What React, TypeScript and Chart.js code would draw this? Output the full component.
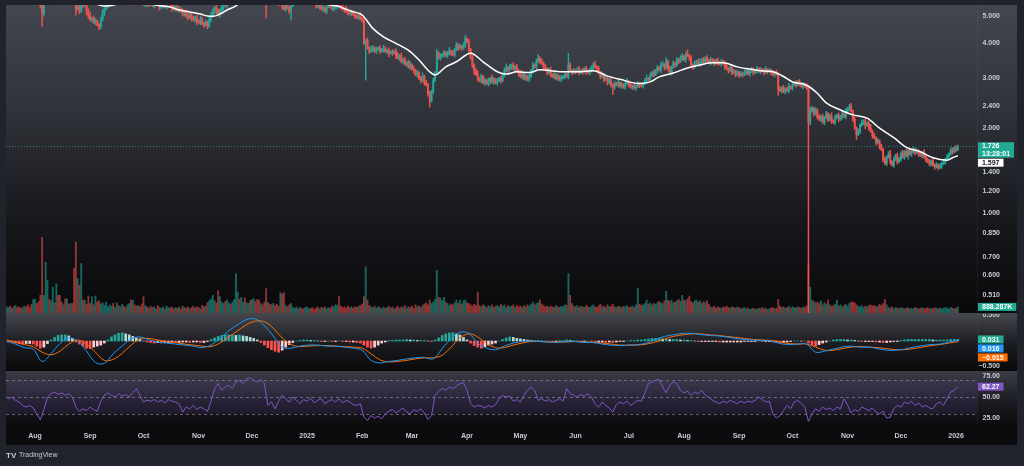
import React, { useEffect, useRef } from "react";
import { Chart, registerables } from "chart.js";

Chart.register(...registerables);

// ---------------- DATA ----------------
// Daily candles. Day 0 = 1 Aug 2024; first candle is day -16 (16 Jul 2024).
const FIRST_DAY = -16;
const FIRST_OPEN = 6.1;

const closes = [
  6.2, 6.4, 6.3, 6.6, 6.5, 6.7, 6.3, 6.1, 6.0, 6.2,
  6.3, 6.1, 6.0, 5.9, 5.8, 5.9,
  5.9, 5.8, 5.7, 5.45, 5.1, 5.6, 5.8, 6.0, 5.95, 6.1,
  6.3, 6.2, 6.5, 6.4, 6.3, 6.2, 6.25, 6.1, 6.15, 6.0,
  6.05, 6.0, 5.7, 5.3, 5.4, 5.2, 5.6, 5.45, 5.5, 5.2,
  5.0, 4.85, 4.9, 4.75, 4.8, 4.65, 4.6, 4.85, 5.1, 5.3,
  5.45, 5.6, 5.8, 5.9, 5.85, 6.0, 6.1, 5.95, 6.0, 6.2,
  6.1, 6.05, 6.2, 6.3, 6.25, 6.4, 6.35, 6.2, 6.3, 6.1,
  6.0, 5.5, 5.6, 5.45, 5.6, 5.55, 5.45, 5.6, 5.7, 5.5,
  5.35, 5.45, 5.55, 5.4, 5.6, 5.7, 5.5, 5.35, 5.3, 5.4,
  5.25, 5.3, 5.2, 5.1, 5.15, 5.0, 4.95, 5.05, 4.9, 4.85,
  4.95, 4.8, 4.75, 4.85, 4.7, 4.65, 4.75, 4.6, 4.85, 5.0,
  5.2, 5.35, 5.25, 5.05, 5.2, 5.35, 5.5, 5.45, 5.6, 5.8,
  5.7, 5.9, 6.1, 6.8, 7.1, 7.0, 7.3, 7.5, 7.2, 7.6,
  7.8, 7.6, 7.9, 8.1, 7.8, 7.7, 7.5, 7.6, 7.3, 7.0,
  6.0, 6.2, 6.0, 5.9, 6.0, 5.8, 5.7, 5.6, 5.7, 5.4,
  5.3, 5.5, 5.35, 5.2, 5.45, 5.6, 5.7, 5.8, 5.75, 5.9,
  5.8, 5.7, 5.85, 5.9, 6.0, 5.9, 5.8, 5.7, 5.5, 5.4,
  5.45, 5.3, 5.35, 5.2, 5.4, 5.5, 5.45, 5.3, 5.35, 5.4,
  5.5, 5.45, 5.4, 5.3, 5.25, 5.2, 5.15, 5.1, 5.15, 5.05,
  5.0, 4.95, 5.0, 4.9, 4.85, 4.0, 4.1, 3.85, 3.75, 3.8,
  3.85, 3.75, 3.8, 3.85, 3.75, 3.8, 3.82, 3.75, 3.78, 3.7,
  3.72, 3.7, 3.75, 3.6, 3.55, 3.62, 3.45, 3.5, 3.38, 3.42,
  3.3, 3.35, 3.25, 3.2, 3.1, 3.15, 3.0, 2.95, 3.05, 2.9,
  2.85, 2.65, 2.5, 2.7, 2.95, 3.15, 3.7, 3.55, 3.6, 3.65,
  3.7, 3.62, 3.68, 3.75, 3.7, 3.65, 3.8, 3.95, 3.85, 3.9,
  3.85, 3.95, 4.15, 4.05, 3.8, 3.55, 3.35, 3.2, 3.1, 3.0,
  2.95, 3.05, 2.9, 2.95, 2.88, 2.95, 3.0, 2.92, 2.97, 2.9,
  2.95, 3.0, 2.95, 3.1, 3.2, 3.28, 3.22, 3.3, 3.35, 3.25,
  3.3, 3.2, 3.15, 3.05, 3.1, 3.0, 3.05, 2.98, 3.05, 3.2,
  3.35, 3.3, 3.45, 3.55, 3.45, 3.4, 3.3, 3.25, 3.15, 3.2,
  3.1, 3.05, 3.1, 3.0, 3.05, 2.98, 3.02, 3.05, 3.1, 3.05,
  3.35, 3.2, 3.15, 3.2, 3.18, 3.22, 3.15, 3.2, 3.17, 3.25,
  3.2, 3.15, 3.2, 3.3, 3.35, 3.3, 3.25, 3.15, 3.05, 3.1,
  2.98, 3.0, 2.9, 2.95, 2.85, 2.8, 2.88, 2.85, 2.9, 2.82,
  2.85, 2.8, 2.88, 2.92, 2.85, 2.8, 2.82, 2.78, 2.82, 2.87,
  2.84, 2.83, 2.88, 2.95, 3.0, 2.98, 3.08, 3.15, 3.1, 3.2,
  3.28, 3.22, 3.35, 3.35, 3.28, 3.45, 3.25, 3.15, 3.3, 3.4,
  3.35, 3.5, 3.45, 3.55, 3.6, 3.5, 3.65, 3.62, 3.55, 3.35,
  3.3, 3.4, 3.45, 3.38, 3.42, 3.5, 3.45, 3.55, 3.48, 3.42,
  3.5, 3.45, 3.4, 3.48, 3.42, 3.38, 3.45, 3.4, 3.3, 3.25,
  3.2, 3.28, 3.15, 3.18, 3.1, 3.15, 3.08, 3.12, 3.1, 3.15,
  3.2, 3.12, 3.18, 3.22, 3.15, 3.2, 3.25, 3.18, 3.22, 3.2,
  3.15, 3.22, 3.18, 3.2, 3.15, 3.1, 3.15, 3.12, 2.75, 2.72,
  2.78, 2.7, 2.75, 2.72, 2.8, 2.78, 2.85, 2.9, 2.85, 2.92,
  2.88, 2.82, 2.85, 2.82, 2.8, 2.1, 2.3, 2.35, 2.25, 2.32,
  2.2, 2.15, 2.2, 2.1, 2.18, 2.25, 2.15, 2.2, 2.12, 2.1,
  2.18, 2.22, 2.15, 2.2, 2.25, 2.2, 2.3, 2.35, 2.38, 2.3,
  2.15, 2.0, 1.9, 1.95, 2.05, 2.1, 2.12, 2.05, 2.08, 2.0,
  1.95, 1.88, 1.85, 1.78, 1.8, 1.72, 1.68, 1.55, 1.5, 1.58,
  1.62, 1.52, 1.48, 1.55, 1.6, 1.52, 1.56, 1.62, 1.58, 1.65,
  1.6, 1.66, 1.62, 1.65, 1.68, 1.64, 1.66, 1.62, 1.6, 1.63,
  1.58, 1.55, 1.52, 1.5, 1.53, 1.48, 1.46, 1.48, 1.45, 1.47,
  1.5, 1.52, 1.55, 1.58, 1.62, 1.67, 1.65, 1.7, 1.68, 1.726,
];

// Wick lengths in % beyond the candle body (upper / lower)
const wickUpPct = [
  2,1,3,1,2,2,1,3,2,1,2,1,1,2,3,1,2,1,2,3,
  2,1,2,3,1,2,1,2,1,3,2,1,2,2,1,3,1,2,1,1,
  2,3,1,2,1,1,2,3,1,2,2,1,1,2,3,1,2,1,2,2,
  1,2,3,1,2,1,2,1,3,2,1,2,2,1,1,2,3,1,2,1,
  2,1,2,3,1,2,1,1,2,3,2,1,2,1,2,3,1,2,1,2,
  1,2,3,1,2,2,1,2,1,3,2,1,2,1,2,3,2,1,2,1,
  2,3,1,2,1,2,1,3,2,1,2,1,2,3,1,2,1,2,1,3,
  2,1,2,1,3,2,1,2,2,1,2,3,1,2,1,2,1,2,3,1,
  2,1,2,1,2,3,1,2,1,2,2,1,3,1,2,1,2,1,2,1,
  2,1,2,3,1,2,1,2,1,2,1,3,2,1,2,1,2,1,2,3,
  1,2,1,2,1,3,2,1,2,1,2,1,3,2,1,2,1,2,1,2,
  3,1,2,1,2,1,2,3,1,2,1,2,1,2,3,1,2,1,2,1,
  2,1,3,1,2,1,2,1,2,3,1,2,1,2,1,2,1,2,3,1,
  2,1,2,1,2,3,1,2,1,2,1,2,1,3,2,1,2,1,2,1,
  2,3,1,2,1,2,1,2,1,2,3,1,2,1,2,1,2,1,2,3,
  1,2,1,2,1,2,3,1,2,1,2,1,2,1,2,1,10,2,1,2,
  1,2,3,1,2,1,2,1,2,1,2,3,1,2,1,2,1,2,1,2,
  3,1,2,1,2,1,2,1,2,3,1,2,1,2,1,2,1,2,1,2,
  3,1,2,1,2,1,2,1,2,3,1,3,1,2,1,2,1,2,1,2,
  2,1,2,4,1,2,1,2,1,2,3,1,2,1,2,1,2,1,2,1,
  2,1,2,1,2,3,1,2,1,2,1,2,1,2,1,2,1,2,1,2,
  2,1,2,1,2,1,2,3,1,2,1,2,1,2,1,2,1,2,1,2,
  3,1,2,1,2,1,2,1,2,1,2,1,3,2,1,2,1,2,1,2,
  1,2,1,2,3,1,2,1,2,1,2,1,2,1,2,3,1,2,1,2,
  1,2,1,2,1,2,3,1,2,1,2,1,2,1,2,1,2,3,1,2,
  1,2,1,2,3,1,2,1,2,1,2,1,2,1,2,1,3,2,1,2,
  1,2,1,2,1,2,1,2,1,2,1,2,2,1,2,1,
];

const wickDownPct = [
  1,2,1,2,3,1,2,1,2,1,2,3,1,2,1,2,1,2,1,2,
  10,2,1,2,1,2,1,2,3,1,2,1,2,1,2,1,2,1,2,5,
  1,2,1,2,1,3,2,1,2,1,2,1,3,2,1,2,1,2,1,2,
  2,1,2,1,2,1,3,2,1,2,1,2,1,2,1,2,3,1,2,1,
  1,2,1,2,3,1,2,1,2,1,2,1,2,3,1,2,1,2,1,2,
  2,1,2,1,2,1,2,3,1,2,1,2,1,2,1,2,1,2,3,1,
  2,1,2,1,2,1,2,1,2,3,1,2,1,2,1,2,1,2,1,2,
  1,2,1,2,1,2,18,2,1,2,1,2,1,3,1,2,1,2,1,2,
  7,1,2,1,2,1,2,1,2,1,2,1,2,1,3,1,2,1,2,1,
  2,1,2,1,2,1,2,1,2,1,2,1,2,1,2,1,2,1,2,1,
  2,1,26,1,2,1,2,1,2,1,2,1,2,1,2,3,1,2,1,2,
  1,2,1,2,1,2,1,2,1,2,1,2,1,2,1,2,1,2,5,1,
  2,1,2,1,2,1,2,1,2,1,2,1,2,1,2,1,2,1,2,1,
  2,1,2,3,1,2,1,2,1,2,1,2,3,1,2,1,2,1,2,1,
  2,1,2,1,2,1,2,1,3,1,2,1,2,1,2,1,2,1,2,1,
  2,1,2,1,2,1,2,1,2,1,2,1,2,1,2,1,2,1,2,1,
  2,1,2,1,2,1,3,1,2,1,2,1,2,1,2,1,2,1,2,1,
  2,6,2,1,2,1,2,1,2,1,2,1,2,1,2,1,2,1,2,1,
  2,1,2,1,2,1,2,1,2,1,2,1,2,1,2,1,2,1,2,1,
  2,1,2,1,2,1,2,1,2,1,2,1,2,1,2,1,2,1,2,1,
  2,1,2,1,2,1,2,1,2,1,2,1,2,1,2,1,2,1,2,1,
  2,1,2,1,2,1,2,1,2,1,2,1,2,1,5,1,2,1,2,1,
  2,1,2,1,2,1,2,1,2,1,2,81,2,1,2,1,2,1,2,1,
  2,1,2,1,2,1,2,1,2,1,2,1,2,1,2,1,2,1,4,1,
  2,1,2,3,1,2,1,2,1,2,1,2,1,2,1,2,1,2,1,2,
  1,2,1,2,1,2,1,3,1,2,1,2,1,2,1,2,1,2,1,2,
  2,1,2,1,2,1,2,1,2,1,2,1,2,1,2,1,
];

// Daily volume, millions
const volumeM = [
  0.9, 0.8, 1.0, 0.7, 0.9, 1.1, 0.8, 0.9, 0.7, 0.8,
  1.0, 0.9, 1.2, 0.8, 1.3, 2.0,
  2.0, 1.4, 1.7, 2.6, 11.2, 2.6, 7.5, 4.8, 2.0, 1.8,
  3.8, 1.5, 4.3, 2.6, 2.6, 1.6, 1.2, 2.1, 2.1, 1.3,
  1.4, 1.4, 6.6, 10.5, 5.1, 4.1, 7.3, 1.9, 1.9, 1.3,
  2.5, 1.4, 2.4, 1.2, 2.5, 1.6, 1.8, 1.3, 1.5, 1.1,
  1.6, 0.9, 1.2, 1.0, 1.4, 0.8, 1.5, 1.1, 0.9, 1.3,
  1.0, 0.8, 1.2, 1.4, 1.9, 1.9, 1.2, 1.0, 1.1, 0.9,
  1.3, 2.4, 1.1, 0.9, 0.7, 1.0, 0.8, 0.9, 0.6, 1.1,
  0.8, 0.7, 0.9, 0.6, 1.0, 0.8, 0.7, 0.9, 0.6, 0.8,
  0.7, 0.9, 0.6, 1.0, 0.8, 0.7, 0.9, 0.6, 0.8, 1.0,
  0.7, 0.9, 0.8, 0.6, 1.1, 0.9, 1.0, 1.5, 1.8, 2.0,
  2.6, 1.8, 1.5, 3.3, 2.4, 1.6, 1.4, 1.7, 1.9, 1.5,
  1.3, 1.6, 2.0, 5.8, 3.1, 2.0, 2.3, 1.6, 2.2, 1.5,
  1.4, 1.8, 2.0, 2.1, 1.7, 2.0, 1.9, 1.4, 1.2, 1.6,
  3.6, 1.5, 1.3, 1.2, 1.4, 1.1, 1.3, 1.0, 3.0, 2.8,
  3.0, 1.1, 0.9, 1.2, 1.4, 0.8, 0.7, 0.9, 0.6, 0.8,
  0.7, 0.6, 0.8, 0.9, 0.6, 0.7, 0.8, 0.5, 0.7, 0.9,
  0.6, 0.8, 0.7, 0.9, 0.6, 0.8, 0.7, 1.0, 0.9, 1.2,
  1.1, 2.4, 1.0, 0.8, 0.9, 0.7, 1.0, 0.8, 0.9, 0.7,
  0.9, 0.8, 1.0, 1.1, 1.3, 2.4, 6.8, 1.9, 1.1, 0.9,
  0.8, 1.0, 0.7, 0.9, 0.8, 0.6, 0.9, 0.7, 0.8, 1.0,
  0.7, 0.9, 0.6, 0.8, 1.0, 0.7, 0.9, 0.8, 1.1, 0.7,
  0.9, 0.8, 1.0, 0.7, 1.2, 0.9, 1.0, 0.8, 1.1, 1.3,
  1.5, 1.2, 1.9, 1.4, 1.6, 2.0, 6.3, 2.3, 2.2, 1.8,
  2.3, 1.6, 1.4, 1.1, 1.3, 1.2, 1.5, 1.9, 1.4, 1.9,
  1.3, 1.8, 1.9, 1.5, 1.4, 1.2, 1.0, 1.3, 1.1, 3.1,
  1.1, 0.9, 1.2, 1.0, 0.8, 1.1, 0.9, 1.2, 0.8, 1.0,
  1.1, 0.9, 1.3, 1.0, 1.2, 0.8, 1.1, 0.9, 1.0, 1.2,
  0.8, 1.1, 0.9, 1.0, 0.8, 1.1, 0.9, 1.2, 1.0, 1.3,
  1.6, 1.2, 1.4, 1.5, 1.9, 1.3, 1.1, 0.9, 1.0, 0.8,
  1.0, 0.9, 0.8, 1.1, 0.9, 0.8, 1.0, 0.9, 1.2, 1.1,
  5.8, 2.6, 1.4, 1.0, 0.9, 1.1, 0.8, 1.0, 0.9, 0.8,
  1.1, 0.9, 0.8, 1.0, 1.2, 0.9, 0.8, 1.1, 1.3, 0.9,
  1.0, 0.8, 1.2, 0.9, 1.0, 1.3, 0.9, 0.8, 1.0, 0.9,
  0.8, 1.0, 0.9, 1.1, 0.8, 0.9, 1.0, 0.8, 1.2, 3.6,
  1.3, 1.1, 1.2, 1.4, 1.9, 1.3, 1.5, 1.2, 1.4, 1.3,
  1.5, 1.7, 1.5, 1.4, 1.8, 3.2, 1.9, 1.7, 1.9, 1.5,
  1.6, 1.8, 2.0, 1.7, 2.6, 1.9, 1.8, 2.1, 2.5, 1.7,
  1.5, 1.8, 1.9, 1.6, 1.8, 1.4, 1.7, 1.5, 1.8, 1.3,
  0.9, 0.8, 1.0, 0.7, 0.9, 0.8, 0.7, 0.9, 0.8, 1.0,
  0.8, 0.7, 0.9, 0.8, 0.7, 0.9, 0.8, 0.6, 0.7, 0.8,
  0.6, 0.7, 0.5, 0.6, 0.7, 0.6, 0.5, 0.7, 0.6, 0.8,
  0.6, 0.7, 0.5, 0.6, 0.7, 0.8, 0.6, 0.7, 2.0, 1.0,
  0.8, 0.9, 0.7, 0.8, 1.0, 0.7, 0.9, 0.8, 0.7, 0.9,
  0.8, 0.7, 0.9, 0.8, 1.1, 7.1, 3.8, 1.9, 1.7, 1.5,
  1.6, 1.4, 1.8, 1.2, 1.5, 1.3, 1.9, 1.2, 1.0, 1.1,
  1.3, 1.9, 1.0, 1.2, 0.9, 1.1, 1.3, 1.0, 1.4, 1.6,
  1.6, 1.5, 1.2, 1.0, 0.9, 1.1, 0.8, 1.0, 0.9, 1.1,
  1.2, 1.0, 1.1, 0.9, 1.0, 1.3, 1.1, 1.4, 2.0, 1.2,
  0.8, 0.7, 0.9, 0.6, 0.8, 0.7, 0.6, 0.8, 0.7, 0.6,
  0.7, 0.8, 0.6, 0.7, 0.6, 0.8, 0.7, 0.6, 0.7, 0.8,
  0.6, 0.7, 0.8, 0.6, 0.7, 0.6, 0.8, 0.7, 0.6, 0.7,
  0.6, 0.7, 0.8, 0.7, 0.6, 0.8, 0.7, 0.6, 0.7, 0.888287,
];

// White moving average (day, value)
const smaDays = [
  -16, -10, -5, 0, 5, 10, 15, 20, 25, 30, 35, 39, 43, 48, 53, 58, 63, 68, 76, 81,
  87, 93, 97, 100, 104, 108, 113, 118, 123, 128, 133, 138, 143, 148, 153, 158, 163, 166, 170, 173,
  178, 184, 190, 196, 203, 211, 216, 222, 225, 231, 237, 245, 252, 260, 265, 271, 278, 284, 290, 297,
  305, 314, 322, 329, 340, 346, 351, 359, 367, 374, 381, 387, 395, 402, 408, 415, 421, 426, 434, 440,
  445, 453, 460, 468, 475, 483, 490, 498, 505, 513, 516, 519,
];
const smaValues = [
  6.1, 6.15, 6.1, 6.05, 5.95, 5.9, 5.95, 6.0, 5.85, 5.65, 5.5, 5.42, 5.45, 5.55, 5.65, 5.7, 5.6, 5.47, 5.38, 5.25,
  5.17, 5.08, 5.0, 4.99, 5.08, 5.25, 5.43, 5.8, 6.3, 6.7, 6.6, 6.3, 6.0, 5.8, 5.7, 5.65, 5.55, 5.47, 5.43, 5.34,
  5.2, 5.04, 4.52, 4.22, 4.0, 3.74, 3.49, 3.17, 3.09, 3.3, 3.44, 3.69, 3.44, 3.17, 3.11, 3.17, 3.15, 3.22, 3.2, 3.17,
  3.17, 3.2, 3.06, 2.98, 2.88, 2.92, 3.04, 3.14, 3.27, 3.35, 3.41, 3.41, 3.3, 3.24, 3.2, 3.17, 3.05, 2.92, 2.84, 2.66,
  2.46, 2.32, 2.23, 2.17, 2.0, 1.85, 1.71, 1.65, 1.57, 1.54, 1.57, 1.597,
];

// MACD line and signal, one reading every 5 days from day -16
const MACD_FIRST_DAY = -16;
const MACD_STEP_DAYS = 5;
const macdValues = [
  0.0, -0.06, -0.13, -0.16, -0.4, -0.25, -0.05, 0.06, 0.0, -0.2,
  -0.42, -0.44, -0.25, -0.1, 0.04, 0.08, 0.02, -0.02, -0.04, -0.06,
  -0.08, -0.1, -0.13, -0.08, 0.05, 0.2, 0.32, 0.42, 0.43, 0.3,
  0.1, -0.12, -0.14, -0.1, -0.08, -0.08, -0.1, -0.1, -0.12, -0.14,
  -0.18, -0.38, -0.43, -0.4, -0.38, -0.35, -0.33, -0.32, -0.35, -0.15,
  0.05, 0.17, 0.15, -0.04, -0.14, -0.17, -0.1, -0.04, -0.01, 0.0,
  -0.01, -0.02, -0.03, -0.01, -0.01, -0.03, -0.03, -0.06, -0.08, -0.09,
  -0.08, -0.07, -0.04, 0.03, 0.09, 0.12, 0.15, 0.15, 0.13, 0.11,
  0.1, 0.08, 0.05, 0.03, 0.02, 0.01, 0.0, -0.05, -0.07, -0.06,
  -0.06, -0.22, -0.2, -0.16, -0.12, -0.1, -0.12, -0.12, -0.15, -0.18,
  -0.18, -0.16, -0.12, -0.09, -0.07, -0.06, -0.02, 0.016,
];
const signalValues = [
  0.02, -0.02, -0.07, -0.11, -0.22, -0.27, -0.2, -0.06, 0.02, -0.06,
  -0.22, -0.38, -0.36, -0.24, -0.08, 0.04, 0.05, 0.02, -0.01, -0.03,
  -0.06, -0.08, -0.1, -0.11, -0.04, 0.08, 0.2, 0.32, 0.39, 0.38,
  0.25, 0.06, -0.07, -0.11, -0.1, -0.09, -0.09, -0.1, -0.11, -0.12,
  -0.14, -0.25, -0.37, -0.41, -0.4, -0.38, -0.35, -0.33, -0.33, -0.28,
  -0.12, 0.06, 0.14, 0.08, -0.05, -0.13, -0.13, -0.08, -0.04, -0.01,
  -0.01, -0.02, -0.02, -0.02, -0.01, -0.02, -0.03, -0.04, -0.06, -0.08,
  -0.08, -0.08, -0.06, -0.02, 0.04, 0.09, 0.12, 0.14, 0.14, 0.12,
  0.11, 0.09, 0.07, 0.05, 0.03, 0.02, 0.01, -0.02, -0.05, -0.06,
  -0.06, -0.12, -0.18, -0.18, -0.15, -0.12, -0.11, -0.12, -0.13, -0.15,
  -0.17, -0.17, -0.15, -0.12, -0.09, -0.07, -0.04, -0.015,
];

// MACD histogram and RSI, one reading every 2 days from day -15
const OSC_FIRST_DAY = -15;
const OSC_STEP_DAYS = 2;
const histValues = [
  -0.02, -0.03, -0.04, -0.05, -0.06, -0.05, -0.05, -0.06,
  -0.1, -0.14, -0.12, -0.05, 0.02, 0.07, 0.11, 0.12, 0.12, 0.1,
  0.05, -0.02, -0.06, -0.1, -0.14, -0.15, -0.12, -0.1, -0.08, -0.04,
  0.02, 0.08, 0.12, 0.15, 0.16, 0.14, 0.12, 0.09, 0.06, 0.04,
  0.0, -0.02, -0.03, -0.04, -0.03, -0.04, -0.03, -0.03, -0.02, -0.03,
  -0.03, -0.02, -0.02, -0.03, -0.02, -0.02, -0.03, -0.03, -0.01, 0.03,
  0.06, 0.09, 0.11, 0.12, 0.12, 0.12, 0.11, 0.12, 0.1, 0.09,
  0.07, 0.05, 0.02, -0.03, -0.08, -0.13, -0.17, -0.2, -0.22, -0.18,
  -0.12, -0.07, -0.03, 0.0, 0.01, 0.02, 0.02, 0.01, 0.01, 0.0,
  -0.01, -0.01, 0.0, -0.01, -0.01, 0.0, -0.01, -0.01, -0.02, -0.02,
  -0.03, -0.04, -0.08, -0.12, -0.14, -0.12, -0.08, -0.04, -0.02, 0.01,
  0.01, 0.02, 0.02, 0.02, 0.03, 0.02, 0.02, 0.01, 0.01, 0.01,
  0.0, -0.01, 0.02, 0.06, 0.11, 0.14, 0.16, 0.16, 0.14, 0.12,
  0.07, 0.02, -0.04, -0.09, -0.12, -0.14, -0.11, -0.08, -0.06, -0.04,
  0.0, 0.03, 0.06, 0.08, 0.07, 0.05, 0.04, 0.03, 0.02, 0.01,
  0.0, 0.01, 0.0, -0.01, 0.0, -0.01, -0.01, 0.01, 0.01, 0.02,
  0.01, 0.0, 0.0, -0.01, -0.01, 0.0, -0.01, -0.02, -0.02, -0.02,
  -0.03, -0.02, -0.03, -0.02, -0.01, -0.01, 0.0, 0.01, 0.01, 0.02,
  0.02, 0.03, 0.04, 0.05, 0.05, 0.05, 0.04, 0.04, 0.03, 0.03,
  0.03, 0.02, 0.02, 0.01, 0.01, 0.0, -0.01, -0.01, -0.01, -0.01,
  -0.01, -0.01, -0.02, -0.02, -0.02, -0.02, -0.02, -0.02, -0.02, -0.01,
  -0.01, -0.01, -0.01, 0.0, -0.01, -0.01, -0.01, -0.02, -0.02, -0.03,
  -0.03, -0.02, -0.01, 0.0, 0.0, -0.01, 0.0, -0.04, -0.08, -0.1,
  -0.07, -0.04, -0.02, 0.0, 0.02, 0.03, 0.03, 0.03, 0.02, 0.02,
  0.01, 0.0, -0.01, -0.01, -0.01, -0.01, -0.02, -0.02, -0.03, -0.03,
  -0.02, -0.01, -0.01, 0.01, 0.02, 0.03, 0.03, 0.03, 0.03, 0.03,
  0.03, 0.03, 0.02, 0.02, 0.02, 0.02, 0.02, 0.03, 0.03, 0.031,
];
const rsiValues = [
  48, 50, 46, 44, 40, 38, 40, 37,
  30, 23, 35, 50, 54, 56, 53, 55, 52, 54,
  50, 38, 33, 36, 34, 38, 35, 33, 45, 52,
  55, 52, 50, 54, 51, 53, 50, 55, 60, 52,
  44, 46, 45, 47, 44, 46, 43, 47, 45, 44,
  42, 32, 38, 36, 40, 35, 38, 36, 33, 45,
  60, 66, 58, 62, 64, 60, 68, 70, 66, 72,
  73, 70, 68, 71, 66, 40, 44, 36, 45, 52,
  48, 44, 50, 46, 42, 47, 45, 49, 43, 46,
  48, 42, 45, 47, 44, 48, 43, 46, 44, 41,
  40, 42, 26, 22, 28, 25, 27, 24, 30, 33,
  35, 31, 34, 37, 32, 30, 35, 33, 36, 31,
  23, 28, 52, 57, 60, 58, 62, 60, 63, 66,
  67, 58, 42, 38, 40, 39, 37, 40, 38, 41,
  48, 52, 50, 51, 45, 47, 44, 52, 58, 62,
  58, 46, 48, 45, 47, 44, 46, 48, 45, 60,
  54, 52, 50, 53, 51, 54, 50, 42, 38, 44,
  40, 37, 32, 41, 44, 42, 45, 40, 43, 46,
  45, 55, 66, 68, 70, 71, 62, 55, 64, 68,
  66, 58, 55, 57, 52, 56, 54, 58, 52, 50,
  46, 44, 42, 45, 43, 46, 44, 42, 45, 43,
  45, 44, 46, 50, 47, 44, 45, 30, 25, 28,
  34, 40, 36, 44, 46, 42, 38, 21, 30, 36,
  33, 38, 35, 37, 34, 38, 36, 48, 40, 31,
  35, 33, 38, 36, 34, 37, 32, 30, 33, 25,
  26, 36, 40, 38, 44, 42, 45, 40, 43, 38,
  40, 37, 36, 42, 44, 40, 48, 56, 58, 62.27,
];

// Time axis (day of each month start) and labels
const monthDays = [0, 31, 61, 92, 122, 153, 184, 212, 243, 273, 304, 334, 365, 396, 426, 457, 487, 518];
const monthLabels = ["Aug", "Sep", "Oct", "Nov", "Dec", "2025", "Feb", "Mar", "Apr", "May", "Jun", "Jul", "Aug", "Sep", "Oct", "Nov", "Dec", "2026"];

// Right-axis ticks
const priceTicks = [5, 4, 3, 2.4, 2, 1.4, 1.2, 1, 0.85, 0.7, 0.6, 0.51];
const macdTicks = [0.5, -0.5];
const rsiTicks = [75, 50, 25];
const rsiLevels = [70, 50, 30];

// Last values (right-side tags)
const lastClose = 1.726;
const barCountdown = "13:28:01";
const lastSma = 1.597;
const lastVolume = 0.888287;
const lastVolumeLabel = "888.287K";
const lastHist = 0.031;
const lastMacd = 0.016;
const lastSignal = -0.015;
const lastRsi = 62.27;

// ---------------- LAYOUT / STYLE ----------------
const W = 1024;
const H = 466;
const AREA = { left: 6, top: 5, right: 977, bottom: 425 };
const MAIN_BOTTOM = 313;
const MACD_TOP = 314;
const MACD_BOTTOM = 370;
const RSI_TOP = 371;
const CONTENT_RIGHT = 1017;
const TIME_BOTTOM = 445;
const TAG_X = 978;
const LABEL_RIGHT = 1000;
const FONT = 'bold 7px "Liberation Sans", Arial, sans-serif';
const TEXT = "#c9ccd4";
const UP = "#26a69a";
const DOWN = "#ef5350";
const VOL_UP = "rgba(38,166,154,0.58)";
const VOL_DOWN = "rgba(239,83,80,0.58)";
const FRAME = "#20232b";

const mainClip = { left: 0, top: 0, right: 0, bottom: -(AREA.bottom - MAIN_BOTTOM) };
const macdClip = { left: 0, top: -(MACD_TOP - AREA.top), right: 0, bottom: -(AREA.bottom - MACD_BOTTOM) };
const rsiClip = { left: 0, top: -(RSI_TOP - AREA.top), right: 0, bottom: 0 };

const fmt = (v: number, d: number) => v.toFixed(d).replace("-", "\u2212");

function buildConfig(): any {
  const candles = closes.map((c, i) => {
    const o = i === 0 ? FIRST_OPEN : closes[i - 1];
    const hi = Math.max(o, c) * (1 + (wickUpPct[i] ?? 1) / 100);
    const lo = Math.min(o, c) * (1 - (wickDownPct[i] ?? 1) / 100);
    return { day: FIRST_DAY + i, o, c, hi, lo, up: c >= o };
  });
  const macdPts = (arr: number[]) => arr.map((v, i) => ({ x: MACD_FIRST_DAY + i * MACD_STEP_DAYS, y: v }));
  const oscPts = (arr: number[]) => arr.map((v, i) => ({ x: OSC_FIRST_DAY + i * OSC_STEP_DAYS, y: v }));
  const histColors = histValues.map((v, i) => {
    const prev = i > 0 ? histValues[i - 1] : 0;
    if (v >= 0) return v >= prev ? "#26a69a" : "#b2dfdb";
    return v < prev ? "#ff5252" : "#ffcdd2";
  });

  const chromePlugin = {
    id: "tvChrome",
    beforeDraw(chart: any) {
      const { ctx } = chart;
      ctx.save();
      ctx.fillStyle = FRAME;
      ctx.fillRect(0, 0, W, H);
      const pane = (y0: number, y1: number, stops: [number, string][]) => {
        const g = ctx.createLinearGradient(0, y0, 0, y1);
        stops.forEach(([o, c]) => g.addColorStop(o, c));
        ctx.fillStyle = g;
        ctx.fillRect(AREA.left, y0, CONTENT_RIGHT - AREA.left, y1 - y0);
      };
      pane(AREA.top, MAIN_BOTTOM, [[0, "#43464f"], [0.35, "#303239"], [0.7, "#17181c"], [1, "#09090b"]]);
      pane(MAIN_BOTTOM, MACD_BOTTOM, [[0, "#46484f"], [0.5, "#1d1e23"], [1, "#09090b"]]);
      pane(RSI_TOP, AREA.bottom, [[0, "#3b3c46"], [0.6, "#1a1a20"], [1, "#0c0c0f"]]);
      ctx.fillStyle = "#0b0b0d";
      ctx.fillRect(AREA.left, AREA.bottom, CONTENT_RIGHT - AREA.left, TIME_BOTTOM - AREA.bottom);
      ctx.fillStyle = "#060607";
      ctx.fillRect(AREA.left, MACD_BOTTOM, CONTENT_RIGHT - AREA.left, 1);
      ctx.fillStyle = "rgba(255,255,255,0.05)";
      ctx.fillRect(AREA.right, AREA.top, 1, AREA.bottom - AREA.top);
      ctx.restore();
    },
    beforeDatasetsDraw(chart: any) {
      const { ctx, scales } = chart;
      const yR = scales.yRsi;
      ctx.save();
      const yTop = yR.getPixelForValue(rsiLevels[0]);
      const yBot = yR.getPixelForValue(rsiLevels[2]);
      ctx.fillStyle = "rgba(126,87,194,0.12)";
      ctx.fillRect(AREA.left, yTop, AREA.right - AREA.left, yBot - yTop);
      ctx.strokeStyle = "rgba(150,152,164,0.6)";
      ctx.lineWidth = 1;
      ctx.setLineDash([3, 3]);
      rsiLevels.forEach((v) => {
        const y = Math.round(yR.getPixelForValue(v)) + 0.5;
        ctx.beginPath();
        ctx.moveTo(AREA.left, y);
        ctx.lineTo(AREA.right, y);
        ctx.stroke();
      });
      const yp = Math.round(scales.yPrice.getPixelForValue(lastClose)) + 0.5;
      ctx.strokeStyle = "rgba(38,166,154,0.75)";
      ctx.setLineDash([1, 2]);
      ctx.beginPath();
      ctx.moveTo(AREA.left, yp);
      ctx.lineTo(AREA.right, yp);
      ctx.stroke();
      ctx.restore();
    },
    afterDraw(chart: any) {
      const { ctx, scales } = chart;
      ctx.save();
      ctx.font = FONT;
      ctx.textBaseline = "middle";
      ctx.fillStyle = TEXT;
      ctx.textAlign = "right";
      priceTicks.forEach((v) => ctx.fillText(fmt(v, 3), LABEL_RIGHT, scales.yPrice.getPixelForValue(v)));
      ctx.save();
      ctx.beginPath();
      ctx.rect(AREA.right, MACD_TOP, CONTENT_RIGHT - AREA.right, MACD_BOTTOM - MACD_TOP);
      ctx.clip();
      macdTicks.forEach((v) => ctx.fillText(fmt(v, 3), LABEL_RIGHT, scales.yMacd.getPixelForValue(v)));
      ctx.restore();
      rsiTicks.forEach((v) => ctx.fillText(fmt(v, 2), LABEL_RIGHT, scales.yRsi.getPixelForValue(v)));

      // time axis
      ctx.textAlign = "center";
      monthDays.forEach((d, i) => ctx.fillText(monthLabels[i], scales.x.getPixelForValue(d), 436.5));

      // tags
      const LH = 7.5;
      const drawTags = (tags: { y: number; lines: string[]; bg: string; fg: string }[]) => {
        let prevBottom = -Infinity;
        tags.forEach((t) => {
          const h = t.lines.length * LH + 0.5;
          let top = t.y - LH / 2 - 0.25;
          if (top < prevBottom + 1) top = prevBottom + 1;
          const w = Math.max(...t.lines.map((s) => ctx.measureText(s).width)) + 8;
          ctx.fillStyle = t.bg;
          ctx.fillRect(TAG_X, top, w, h);
          ctx.fillStyle = t.fg;
          ctx.textAlign = "left";
          t.lines.forEach((s, i) => ctx.fillText(s, TAG_X + 4, top + LH / 2 + 0.5 + i * LH));
          prevBottom = top + h;
        });
      };
      drawTags([
        { y: scales.yPrice.getPixelForValue(lastClose), lines: [fmt(lastClose, 3), barCountdown], bg: "#22ab94", fg: "#ffffff" },
        { y: scales.yPrice.getPixelForValue(lastSma), lines: [fmt(lastSma, 3)], bg: "#ffffff", fg: "#131722" },
      ]);
      drawTags([{ y: scales.yVol.getPixelForValue(lastVolume), lines: [lastVolumeLabel], bg: "#22ab94", fg: "#ffffff" }]);
      drawTags([
        { y: scales.yMacd.getPixelForValue(lastHist), lines: [fmt(lastHist, 3)], bg: "#22ab94", fg: "#ffffff" },
        { y: scales.yMacd.getPixelForValue(lastMacd), lines: [fmt(lastMacd, 3)], bg: "#2196f3", fg: "#ffffff" },
        { y: scales.yMacd.getPixelForValue(lastSignal), lines: [fmt(lastSignal, 3)], bg: "#ff6d00", fg: "#ffffff" },
      ]);
      drawTags([{ y: scales.yRsi.getPixelForValue(lastRsi), lines: [fmt(lastRsi, 2)], bg: "#7e57c2", fg: "#ffffff" }]);

      // footer
      ctx.textAlign = "left";
      ctx.fillStyle = "#c8cbd3";
      ctx.font = 'bold 8px "Liberation Sans", Arial, sans-serif';
      ctx.fillText("TV", 6, 455.5);
      ctx.font = '7px "Liberation Sans", Arial, sans-serif';
      ctx.fillText("TradingView", 19, 455.5);
      ctx.restore();
    },
  };

  return {
    type: "bar",
    data: {
      datasets: [
        {
          type: "line",
          label: "MA",
          data: smaDays.map((d, i) => ({ x: d, y: smaValues[i] })),
          yAxisID: "yPrice",
          borderColor: "#ffffff",
          borderWidth: 1.5,
          pointRadius: 0,
          cubicInterpolationMode: "monotone",
          clip: mainClip,
          order: 0,
        },
        {
          type: "bar",
          label: "body",
          data: candles.map((k) => ({ x: k.day, y: [k.o, k.c] })),
          yAxisID: "yPrice",
          backgroundColor: candles.map((k) => (k.up ? UP : DOWN)),
          barThickness: 1.3,
          minBarLength: 1,
          grouped: false,
          clip: mainClip,
          order: 1,
        },
        {
          type: "bar",
          label: "wick",
          data: candles.map((k) => ({ x: k.day, y: [k.lo, k.hi] })),
          yAxisID: "yPrice",
          backgroundColor: candles.map((k) => (k.up ? UP : DOWN)),
          barThickness: 0.8,
          grouped: false,
          clip: mainClip,
          order: 2,
        },
        {
          type: "bar",
          label: "volume",
          data: candles.map((k, i) => ({ x: k.day, y: volumeM[i] ?? 0 })),
          yAxisID: "yVol",
          backgroundColor: candles.map((k) => (k.up ? VOL_UP : VOL_DOWN)),
          barThickness: 1.2,
          grouped: false,
          clip: mainClip,
          order: 4,
        },
        {
          type: "line",
          label: "MACD",
          data: macdPts(macdValues),
          yAxisID: "yMacd",
          borderColor: "#2196f3",
          borderWidth: 1,
          pointRadius: 0,
          tension: 0.35,
          clip: macdClip,
          order: 0,
        },
        {
          type: "line",
          label: "Signal",
          data: macdPts(signalValues),
          yAxisID: "yMacd",
          borderColor: "#ff6d00",
          borderWidth: 1,
          pointRadius: 0,
          tension: 0.35,
          clip: macdClip,
          order: 0,
        },
        {
          type: "bar",
          label: "Histogram",
          data: oscPts(histValues),
          yAxisID: "yMacd",
          backgroundColor: histColors,
          barThickness: 2,
          grouped: false,
          clip: macdClip,
          order: 3,
        },
        {
          type: "line",
          label: "RSI",
          data: oscPts(rsiValues),
          yAxisID: "yRsi",
          borderColor: "#7e57c2",
          borderWidth: 1,
          pointRadius: 0,
          tension: 0,
          clip: rsiClip,
          order: 0,
        },
      ],
    },
    options: {
      responsive: false,
      animation: false,
      devicePixelRatio: 1,
      events: [],
      layout: { padding: { left: AREA.left, top: AREA.top, right: W - AREA.right, bottom: H - AREA.bottom } },
      plugins: { legend: { display: false }, tooltip: { enabled: false }, title: { display: false } },
      scales: {
        x: { type: "linear", min: -16.31, max: 529.8, display: false, offset: false },
        yPrice: { type: "logarithmic", min: 0.177, max: 5.47, display: false },
        yVol: { type: "linear", min: -16.6, max: 45.6, display: false },
        yMacd: { type: "linear", min: -1.647, max: 6.588, display: false },
        yRsi: { type: "linear", min: 16.67, max: 516.67, display: false },
      },
    },
    plugins: [chromePlugin],
  };
}

export default function App() {
  const ref = useRef<HTMLCanvasElement | null>(null);
  useEffect(() => {
    if (!ref.current) return;
    const chart = new Chart(ref.current, buildConfig());
    return () => chart.destroy();
  }, []);
  return (
    <div style={{ position: "fixed", left: 0, top: 0, width: W, height: H, background: FRAME, overflow: "hidden" }}>
      <canvas ref={ref} width={W} height={H} style={{ display: "block", width: W, height: H }} />
    </div>
  );
}
